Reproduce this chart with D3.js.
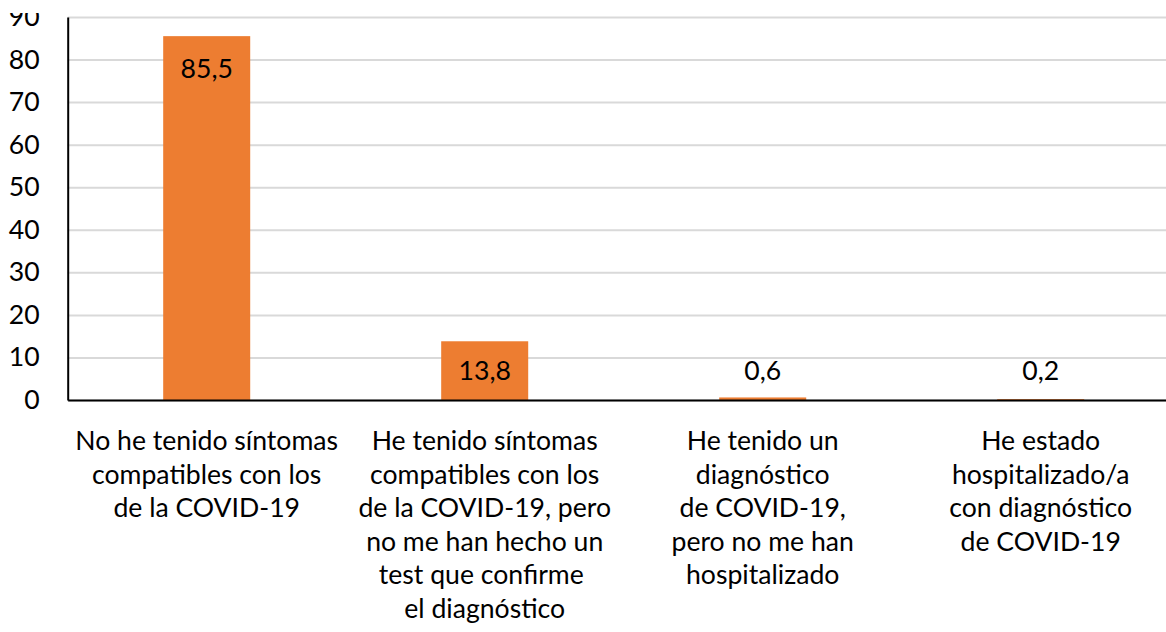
<!DOCTYPE html>
<html>
<head>
<meta charset="utf-8">
<script src="https://cdn.jsdelivr.net/npm/d3@7"></script>
<style>
  body { margin: 0; background: #fff; }
  svg { display: block; }
  text { font-family: Lato, "Noto Sans", sans-serif; fill: #000; }
</style>
</head>
<body>
<svg id="chart" width="1166" height="632"></svg>
<script>
// ---- data ----
const categories = [
  "No he tenido síntomas compatibles con los de la COVID-19",
  "He tenido síntomas compatibles con los de la COVID-19, pero no me han hecho un test que confirme el diagnóstico",
  "He tenido un diagnóstico de COVID-19, pero no me han hospitalizado",
  "He estado hospitalizado/a con diagnóstico de COVID-19"
];
const categoryLines = [
  ["No he tenido síntomas", "compatibles con los", "de la COVID-19"],
  ["He tenido síntomas", "compatibles con los", "de la COVID-19, pero", "no me han hecho un", "test que confirme ", "el diagnóstico"],
  ["He tenido un", "diagnóstico", "de COVID-19,", "pero no me han", "hospitalizado"],
  ["He estado", "hospitalizado/a", "con diagnóstico", "de COVID-19"]
];
const values = [85.5, 13.8, 0.6, 0.2];
const yTicks = [0, 10, 20, 30, 40, 50, 60, 70, 80, 90];

// ---- layout ----
const svg = d3.select("#chart");
const x0 = 67.7, plotRight = 1179.7, yBottom = 400, yTop = 17;
const fontSize = 26.6;

const x = d3.scaleBand().domain(categories).range([x0, plotRight]).padding(0);
const y = d3.scaleLinear().domain([0, 90]).range([yBottom, yTop]);
const esLocale = d3.formatLocale({ decimal: ",", thousands: ".", grouping: [3], currency: ["", " €"] });
const fmt = esLocale.format(".1f");

// gridlines
const grid = svg.append("g").attr("transform", `translate(${x0},0)`)
  .call(d3.axisLeft(y).tickValues(yTicks).tickSize(-(plotRight - x0)).tickFormat(""));
grid.select(".domain").remove();
grid.selectAll("line").attr("stroke", "#d9d9d9").attr("stroke-width", 2);

// bars
const barW = x.bandwidth() * 0.313;
svg.append("g").selectAll("rect").data(values).join("rect")
  .attr("x", (d, i) => x(categories[i]) + (x.bandwidth() - barW) / 2)
  .attr("y", d => y(d))
  .attr("width", barW)
  .attr("height", d => y(0) - y(d))
  .attr("fill", "#ed7d31");

// value labels
svg.append("g").selectAll("text").data(values).join("text")
  .attr("x", (d, i) => x(categories[i]) + x.bandwidth() / 2)
  .attr("y", d => Math.min(y(d) + 32, y(0) - 30))
  .attr("dy", "0.36em")
  .attr("text-anchor", "middle")
  .style("font-size", fontSize + "px")
  .text(d => fmt(d));

// y axis
const yAxis = svg.append("g").attr("transform", `translate(${x0},0)`)
  .call(d3.axisLeft(y).tickValues(yTicks).tickSize(0).tickSizeOuter(0).tickPadding(28));
yAxis.select(".domain").attr("stroke", "#000").attr("stroke-width", 2);
yAxis.selectAll("text").style("font-size", fontSize + "px").attr("font-family", null);

// x axis
const xAxis = svg.append("g").attr("transform", `translate(0,${yBottom})`)
  .call(d3.axisBottom(x).tickSize(0).tickSizeOuter(0).tickFormat(""));
xAxis.select(".domain").attr("stroke", "#000").attr("stroke-width", 2);

// category labels (multi-line)
const catG = svg.append("g");
categories.forEach((c, i) => {
  const t = catG.append("text")
    .attr("text-anchor", "middle")
    .attr("xml:space", "preserve")
    .style("white-space", "pre")
    .style("font-size", fontSize + "px");
  categoryLines[i].forEach((line, j) => {
    t.append("tspan")
      .attr("x", x(c) + x.bandwidth() / 2)
      .attr("y", yBottom + 50 + j * 33.5)
      .text(line);
  });
});

// crop of the top edge (as in the reference image)
svg.append("rect").attr("x", 0).attr("y", 0).attr("width", x0 - 2).attr("height", 13).attr("fill", "#fff");
</script>
</body>
</html>
